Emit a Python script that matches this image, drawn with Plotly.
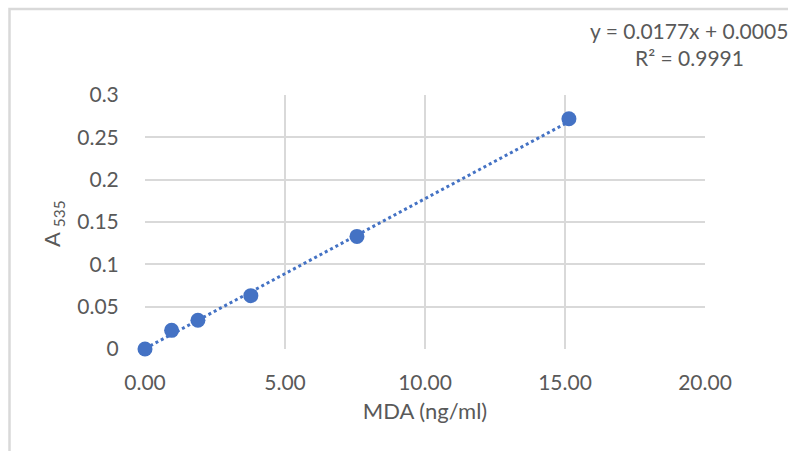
import plotly.graph_objects as go

# MDA standard curve: concentration (ng/ml) vs absorbance at 535 nm
mda_conc = [0.0, 0.95, 1.89, 3.78, 7.57, 15.14]
absorbance = [0.0, 0.022, 0.034, 0.063, 0.133, 0.272]

# Linear fit coefficients as reported on the chart
slope = 0.0177
intercept = 0.0005
r_squared = 0.9991

x_ticks = [0, 5, 10, 15, 20]
x_tick_text = ["0.00", "5.00", "10.00", "15.00", "20.00"]
y_ticks = [0, 0.05, 0.1, 0.15, 0.2, 0.25, 0.3]
y_tick_text = ["0", "0.05", "0.1", "0.15", "0.2", "0.25", "0.3"]

FONT = "Lato, Calibri, Carlito, sans-serif"
TEXT = "#595959"
GRID = "#d9d9d9"
BLUE = "#4472c4"

# plot-area geometry in pixels
W, H = 788, 451
L, R, T, B = 145, 83, 95, 102
pw, ph = W - L - R, H - T - B


def px_x(p):
    return (p - L) / pw


def px_y(p):
    return (H - B - p) / ph


fit_x = [min(mda_conc), max(mda_conc)]
fit_y = [slope * v + intercept for v in fit_x]

fig = go.Figure()
fig.add_trace(go.Scatter(
    x=fit_x, y=fit_y, mode="lines",
    line=dict(color=BLUE, width=3, dash="dot"),
    hoverinfo="skip", showlegend=False, cliponaxis=False,
))
fig.add_trace(go.Scatter(
    x=mda_conc, y=absorbance, mode="markers",
    marker=dict(color=BLUE, size=15),
    showlegend=False, cliponaxis=False,
))

fig.update_layout(
    width=W, height=H,
    margin=dict(l=L, r=R, t=T, b=B, pad=0),
    paper_bgcolor="white", plot_bgcolor="white",
    font=dict(family=FONT, size=21, color=TEXT),
    xaxis=dict(
        range=[0, 20], tickvals=x_ticks, ticktext=x_tick_text,
        showgrid=True, gridcolor=GRID, gridwidth=1.5,
        zeroline=False, showline=False,
        ticks="outside", ticklen=15, tickcolor="rgba(0,0,0,0)",
        title=dict(text="MDA (ng/ml)", standoff=10, font=dict(size=22)),
    ),
    yaxis=dict(
        range=[0, 0.3], tickvals=y_ticks, ticktext=y_tick_text,
        showgrid=True, gridcolor=GRID, gridwidth=1.5,
        zeroline=False, showline=False,
        ticks="outside", ticklen=21, tickcolor="rgba(0,0,0,0)",
    ),
)

# y-axis title placed as a rotated label
fig.add_annotation(
    xref="paper", yref="paper", x=px_x(53), y=px_y(224),
    xanchor="center", yanchor="middle", showarrow=False, textangle=-90,
    text="A <sub>535</sub>", font=dict(size=22),
)

# outer chart border
fig.add_shape(
    type="rect", xref="paper", yref="paper",
    x0=px_x(9.5), x1=px_x(800), y0=px_y(470), y1=px_y(9),
    line=dict(color=GRID, width=2.5), fillcolor="rgba(0,0,0,0)", layer="below",
)

# trendline equation and R²
fig.add_annotation(
    xref="paper", yref="paper", x=px_x(689), y=px_y(30),
    xanchor="center", yanchor="middle", showarrow=False,
    text=f"y = {slope}x + {intercept}", font=dict(size=21),
)
fig.add_annotation(
    xref="paper", yref="paper", x=px_x(689), y=px_y(57),
    xanchor="center", yanchor="middle", showarrow=False,
    text=f"R² = {r_squared}", font=dict(size=21),
)

fig.write_html("out.html")
